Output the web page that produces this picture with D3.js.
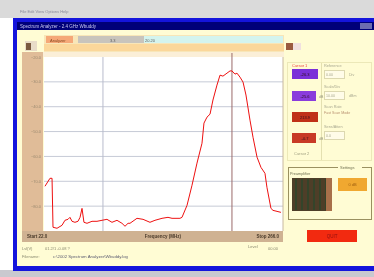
<!DOCTYPE html>
<html>
<head>
<meta charset="utf-8">
<script src="https://cdn.jsdelivr.net/npm/d3@7"></script>
<style>
  body { margin: 0; background: #fff; }
  svg { display: block; filter: blur(0.35px); font-family: "Liberation Sans", Arial, sans-serif; }
</style>
</head>
<body>
<div id="chart"></div>
<script>
const width = 374;
const height = 277;

// trace: frequency (MHz) and level (dB)
const freqs = [23.0, 28.1, 30.2, 31.2, 35.3, 40.4, 43.4, 46.5, 48.5, 50.6, 53.6, 56.7, 58.8, 60.8, 62.8,
  65.9, 71.0, 76.1, 81.2, 86.3, 91.4, 96.5, 101.6, 104.7, 107.8, 109.8, 116.9, 123.1, 130.2, 135.3,
  142.5, 148.6, 152.7, 160.8, 162.9, 168.0, 173.1, 178.2, 183.3, 185.3, 188.4, 191.5, 194.5, 198.6,
  201.7, 204.7, 208.8, 211.9, 213.9, 217.0, 219.0, 222.1, 225.2, 228.2, 232.3, 235.4, 239.5, 243.5,
  247.6, 249.6, 253.7, 255.8, 259.9, 263.9];
const levels = [-72.0, -68.8, -68.8, -88.5, -88.9, -87.7, -85.7, -85.3, -84.5, -86.1, -86.5, -86.1, -84.5, -80.9, -86.5,
  -86.9, -86.1, -86.1, -85.7, -85.3, -86.5, -85.7, -86.9, -88.1, -86.9, -86.9, -84.9, -85.3, -86.5, -85.7,
  -84.9, -84.5, -84.9, -84.9, -84.5, -79.7, -71.6, -62.7, -54.7, -46.6, -44.2, -43.0, -37.3, -31.3,
  -27.3, -27.7, -26.5, -25.6, -25.6, -26.9, -26.5, -28.1, -30.1, -35.3, -45.4, -52.3, -60.3, -64.4,
  -66.8, -72.4, -80.9, -81.7, -82.1, -82.5];

const levelTicks = [-20, -30, -40, -50, -60, -70, -80];
const markerFreqs = [82.2, 213.9];
const startFreq = 22.0;
const stopFreq = 266.0;

const cursorLabels = ["Cursor 1", "Cursor 2"];
const cursorBoxes = ["-26.3", "-25.6", "213.9", "-0.7"];
const fieldLabels = ["Reference", "Scale/Div", "Scan Rate", "Sens/Atten"];
const fieldValues = ["0.00", "10.00", "Fast Scan Mode", "0.0"];

const svg = d3.select("#chart").append("svg")
  .attr("width", width)
  .attr("height", height);

// desktop / taskbar strips
svg.append("rect").attr("x", 0).attr("y", 0).attr("width", width).attr("height", 18).attr("fill", "#dadada");
svg.append("text").attr("x", 20).attr("y", 13).attr("font-size", 4).attr("fill", "#8a8a9a")
  .text("File   Edit   View   Options   Help");
svg.append("rect").attr("x", 0).attr("y", 270).attr("width", width).attr("height", 7).attr("fill", "#c9c9cf");

// window frame
svg.append("rect").attr("x", 13).attr("y", 18).attr("width", width - 13).attr("height", 253).attr("fill", "#1414dc");
svg.append("rect").attr("x", 17).attr("y", 22).attr("width", width - 17).attr("height", 8).attr("fill", "#000078");
svg.append("text").attr("x", 20).attr("y", 28).attr("font-size", 4.5).attr("fill", "#c8c8f0")
  .text("Spectrum Analyzer - 2.4 GHz Wbuddy");
svg.append("rect").attr("x", 360).attr("y", 23).attr("width", 12).attr("height", 6).attr("fill", "#6c6cb0");
svg.append("rect").attr("x", 17).attr("y", 30).attr("width", width - 17).attr("height", 236).attr("fill", "#fffcd4");

// tab strip
svg.append("rect").attr("x", 44).attr("y", 35).attr("width", 240).attr("height", 17).attr("fill", "#f8e6b8");
svg.append("rect").attr("x", 46).attr("y", 36).attr("width", 27).attr("height", 7).attr("fill", "#f5a878");
svg.append("text").attr("x", 50).attr("y", 41.5).attr("font-size", 4).attr("fill", "#8a4a20").text("Analyzer");
svg.append("rect").attr("x", 78).attr("y", 36).attr("width", 66).attr("height", 7).attr("fill", "#c8c4bc");
svg.append("rect").attr("x", 144).attr("y", 36).attr("width", 139).attr("height", 7).attr("fill", "#d4f4ee");
svg.append("text").attr("x", 110).attr("y", 41.5).attr("font-size", 4).attr("fill", "#606060").text("3.3");
svg.append("text").attr("x", 145).attr("y", 41.5).attr("font-size", 4).attr("fill", "#606060").text("20.20");
svg.append("rect").attr("x", 44).attr("y", 44).attr("width", 240).attr("height", 7).attr("fill", "#fbd79a");
svg.append("rect").attr("x", 25).attr("y", 41).attr("width", 12).attr("height", 10).attr("fill", "#e8dcc8");
svg.append("rect").attr("x", 26).attr("y", 43).attr("width", 5).attr("height", 7).attr("fill", "#7a5a40");
svg.append("rect").attr("x", 286).attr("y", 43).attr("width", 15).attr("height", 7).attr("fill", "#f0e0e0");
svg.append("rect").attr("x", 286).attr("y", 43).attr("width", 7).attr("height", 7).attr("fill", "#9a5a40");

// plot geometry
const plot = { left: 44, right: 283, top: 57, bottom: 231 };

const x = d3.scaleLinear().domain([startFreq, stopFreq]).range([plot.left, plot.right]);
const y = d3.scaleLinear().domain([-20, -90]).range([plot.top, plot.bottom]);

// left axis column
svg.append("rect").attr("x", 22).attr("y", 52).attr("width", 21).attr("height", 180).attr("fill", "#e0bc98");
svg.append("rect").attr("x", plot.left - 1).attr("y", 52).attr("width", plot.right - plot.left + 2).attr("height", 5).attr("fill", "#fbefd8");
svg.append("rect").attr("x", plot.left).attr("y", plot.top).attr("width", plot.right - plot.left).attr("height", plot.bottom - plot.top)
  .attr("fill", "#ffffff");

// horizontal grid
svg.append("g")
  .selectAll("line")
  .data(levelTicks.slice(1))
  .enter()
  .append("line")
  .attr("x1", plot.left).attr("x2", plot.right)
  .attr("y1", d => y(d)).attr("y2", d => y(d))
  .attr("stroke", "#c6cad6").attr("stroke-width", 1);

// level labels
svg.append("g")
  .selectAll("text")
  .data(levelTicks)
  .enter()
  .append("text")
  .attr("x", 41)
  .attr("y", d => y(d) + 1.5)
  .attr("text-anchor", "end")
  .attr("font-size", 4)
  .attr("fill", "#9a8a70")
  .text(d => d3.format(".1f")(d));

// marker lines
svg.append("line").attr("x1", x(markerFreqs[0])).attr("x2", x(markerFreqs[0]))
  .attr("y1", plot.top).attr("y2", plot.bottom).attr("stroke", "#b8bccc").attr("stroke-width", 1);
svg.append("line").attr("x1", x(markerFreqs[1])).attr("x2", x(markerFreqs[1]))
  .attr("y1", plot.top - 4).attr("y2", plot.bottom).attr("stroke", "#9a6a6a").attr("stroke-width", 1);
svg.append("line").attr("x1", plot.right).attr("x2", plot.right)
  .attr("y1", plot.top).attr("y2", plot.bottom).attr("stroke", "#c8b8a0").attr("stroke-width", 1);

// trace
const trace = freqs.map((f, i) => [f, levels[i]]);
svg.append("path")
  .datum(trace)
  .attr("fill", "none")
  .attr("stroke", "#ee1010")
  .attr("stroke-width", 1)
  .attr("d", d3.line().x(d => x(d[0])).y(d => y(d[1])));

// bottom bar
svg.append("rect").attr("x", 22).attr("y", plot.bottom).attr("width", plot.right - 22).attr("height", 11).attr("fill", "#cfb292");
svg.append("text").attr("x", 27).attr("y", plot.bottom + 7).attr("font-size", 4.5).attr("font-weight", "bold").attr("fill", "#4a3a2a")
  .text("Start " + startFreq.toFixed(1));
svg.append("text").attr("x", 163).attr("y", plot.bottom + 7).attr("font-size", 4.5).attr("font-weight", "bold").attr("fill", "#4a3a2a")
  .attr("text-anchor", "middle").text("Frequency (MHz)");
svg.append("text").attr("x", 279).attr("y", plot.bottom + 7).attr("font-size", 4.5).attr("font-weight", "bold").attr("fill", "#4a3a2a")
  .attr("text-anchor", "end").text("Stop " + stopFreq.toFixed(1));

svg.append("text").attr("x", 22).attr("y", 250).attr("font-size", 4).attr("fill", "#8a8a70").text("Lvl(V)");
svg.append("text").attr("x", 45).attr("y", 250).attr("font-size", 4).attr("fill", "#8a8a70").text("01.2/1 -0.08 ?");
svg.append("text").attr("x", 248).attr("y", 248).attr("font-size", 4).attr("fill", "#8a8a70").text("Level");
svg.append("text").attr("x", 268).attr("y", 250).attr("font-size", 4).attr("fill", "#8a8a70").text("00.00");
svg.append("text").attr("x", 22).attr("y", 258).attr("font-size", 4).attr("fill", "#8a8a70").text("Filename:");
svg.append("text").attr("x", 53).attr("y", 258).attr("font-size", 4.3).attr("fill", "#5a5a70")
  .text("c:\\2002 Spectrum Analyzer\\Wbuddy.log");

// right panel
svg.append("rect").attr("x", 287.5).attr("y", 62.5).attr("width", 84).attr("height", 98)
  .attr("fill", "none").attr("stroke", "#ece8b8");
svg.append("line").attr("x1", 321.5).attr("x2", 321.5).attr("y1", 63).attr("y2", 160).attr("stroke", "#e4e0b0");

svg.append("text").attr("x", 292).attr("y", 67).attr("font-size", 4).attr("fill", "#ee4040").text(cursorLabels[0]);
svg.append("text").attr("x", 294).attr("y", 155).attr("font-size", 4).attr("fill", "#a0a080").text(cursorLabels[1]);

const boxY = [69, 91, 112, 133];
const boxW = [26, 24, 26, 24];
const boxFill = ["#7a30d8", "#8a3cdc", "#c03018", "#c83a26"];
svg.append("g")
  .selectAll("rect")
  .data(cursorBoxes)
  .enter()
  .append("rect")
  .attr("x", 292)
  .attr("y", (d, i) => boxY[i])
  .attr("width", (d, i) => boxW[i])
  .attr("height", 10)
  .attr("fill", (d, i) => boxFill[i]);
svg.append("g")
  .selectAll("text")
  .data(cursorBoxes)
  .enter()
  .append("text")
  .attr("x", 305)
  .attr("y", (d, i) => boxY[i] + 6.5)
  .attr("text-anchor", "middle")
  .attr("font-size", 4)
  .attr("fill", "#301020")
  .text(d => d);
[1, 3].forEach(i => {
  svg.append("text").attr("x", 319).attr("y", boxY[i] + 7).attr("font-size", 3.5).attr("fill", "#9a9a80").text("dB");
});

const fieldY = [67, 88, 108, 128];
fieldLabels.forEach((lab, i) => {
  svg.append("text").attr("x", 324).attr("y", fieldY[i]).attr("font-size", 3.8).attr("fill", "#a8a890").text(lab);
  if (i === 2) {
    svg.append("text").attr("x", 324).attr("y", fieldY[i] + 6).attr("font-size", 3.6).attr("fill", "#b89070").text(fieldValues[i]);
  } else {
    svg.append("rect").attr("x", 324.5).attr("y", fieldY[i] + 3.5).attr("width", 20).attr("height", 8)
      .attr("fill", "#fffce8").attr("stroke", "#dcd8b0");
    svg.append("text").attr("x", 326).attr("y", fieldY[i] + 9).attr("font-size", 3.6).attr("fill", "#a8a890").text(fieldValues[i]);
    if (i < 2) svg.append("text").attr("x", 349).attr("y", fieldY[i] + 9).attr("font-size", 3.6).attr("fill", "#a8a890")
      .text(i === 0 ? "Div" : "dBm");
  }
});

// settings group
svg.append("rect").attr("x", 288.5).attr("y", 167.5).attr("width", 83).attr("height", 52)
  .attr("fill", "none").attr("stroke", "#9a9060");
svg.append("rect").attr("x", 338).attr("y", 164).attr("width", 24).attr("height", 6).attr("fill", "#fffcd4");
svg.append("text").attr("x", 340).attr("y", 169).attr("font-size", 4).attr("fill", "#707050").text("Settings");
svg.append("text").attr("x", 290).attr("y", 175).attr("font-size", 3.8).attr("fill", "#707050").text("Preamplifier");
svg.append("rect").attr("x", 292).attr("y", 178).attr("width", 40).attr("height", 33).attr("fill", "#4e3e28");
svg.append("g")
  .selectAll("line")
  .data(d3.range(6))
  .enter()
  .append("line")
  .attr("x1", d => 296 + d * 6).attr("x2", d => 296 + d * 6)
  .attr("y1", 179).attr("y2", 210)
  .attr("stroke", "#34442a").attr("stroke-width", 2);
svg.append("rect").attr("x", 326).attr("y", 178).attr("width", 6).attr("height", 33).attr("fill", "#a8704a");
svg.append("rect").attr("x", 338).attr("y", 178).attr("width", 29).attr("height", 13).attr("fill", "#f0a830");
svg.append("text").attr("x", 352.5).attr("y", 186).attr("text-anchor", "middle").attr("font-size", 4).attr("fill", "#a06010").text("0 dB");

// exit button
svg.append("rect").attr("x", 307).attr("y", 230).attr("width", 50).attr("height", 12).attr("fill", "#f22a10");
svg.append("text").attr("x", 332).attr("y", 237.5).attr("text-anchor", "middle").attr("font-size", 4.5).attr("fill", "#901010").text("QUIT");
</script>
</body>
</html>
